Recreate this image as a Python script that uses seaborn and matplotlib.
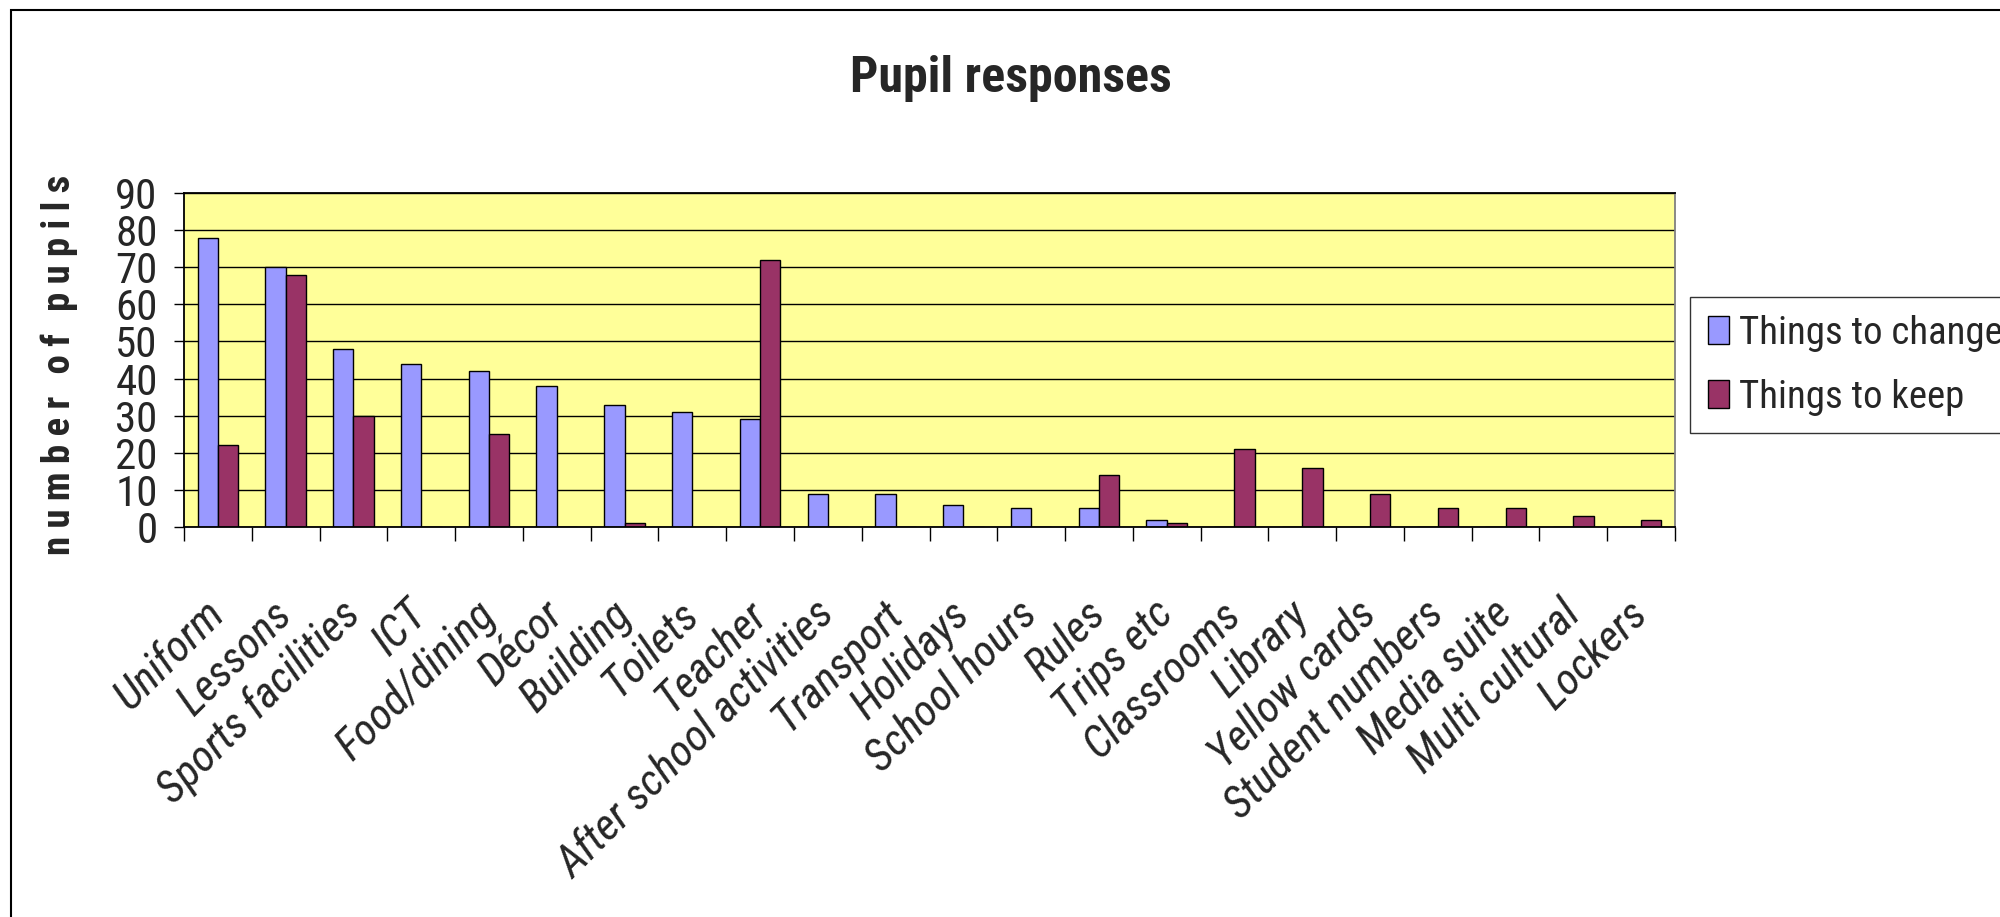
import numpy as np
import pandas as pd
import matplotlib
matplotlib.use("Agg")
import matplotlib.pyplot as plt
from matplotlib.patches import Patch, Rectangle
from matplotlib import font_manager as fm
import seaborn as sns

# ---- data -------------------------------------------------------------
categories = ["Uniform", "Lessons", "Sports facilities", "ICT", "Food/dining",
              "Décor", "Building", "Toilets", "Teacher",
              "After school activities", "Transport", "Holidays",
              "School hours", "Rules", "Trips etc", "Classrooms", "Library",
              "Yellow cards", "Student numbers", "Media suite",
              "Multi cultural", "Lockers"]
things_to_change = [78, 70, 48, 44, 42, 38, 33, 31, 29, 9, 9, 6, 5, 5, 2,
                    0, 0, 0, 0, 0, 0, 0]
things_to_keep = [22, 68, 30, 0, 25, 0, 1, 0, 72, 0, 0, 0, 0, 14, 1,
                  21, 16, 9, 5, 5, 3, 2]
series_names = ["Things to change", "Things to keep"]
y_ticks = list(range(0, 100, 10))
title_text = "Pupil responses"
y_label_text = "number of pupils"

# ---- style ------------------------------------------------------------
sns.set_style("white")


def pick_narrow_font():
    """Prefer a narrow sans face; fall back to Liberation Sans."""
    installed = {f.name for f in fm.fontManager.ttflist}
    for name in ["Liberation Sans Narrow", "Arial Narrow", "Roboto Condensed",
                 "Noto Sans Condensed", "Open Sans Condensed",
                 "DejaVu Sans Condensed", "Nimbus Sans Narrow"]:
        if name in installed:
            return name, "normal"
    for f in fm.fontManager.ttflist:
        if f.stretch in ("condensed", "semi-condensed", "extra-condensed") and \
                f.name in ("Noto Sans", "Roboto", "Open Sans", "Liberation Sans",
                           "DejaVu Sans", "Inter", "Lato"):
            return f.name, f.stretch
    return "Liberation Sans", "normal"


NARROW, STRETCH = pick_narrow_font()
plt.rcParams["font.family"] = [NARROW, "DejaVu Sans"]
plt.rcParams["font.stretch"] = STRETCH

colors = ["#9999FF", "#993366"]
plot_bg = "#FFFF99"

df = pd.DataFrame({
    "item": categories * 2,
    "count": things_to_change + things_to_keep,
    "series": [series_names[0]] * len(categories) + [series_names[1]] * len(categories),
})

fig = plt.figure(figsize=(20, 9.17), dpi=100)
ax = fig.add_axes([0.092, 0.4253, 0.7455, 0.3642])
ax.set_facecolor(plot_bg)

sns.barplot(data=df, x="item", y="count", hue="series", order=categories,
            hue_order=series_names, palette=colors, width=0.6,
            edgecolor="black", linewidth=1.0, saturation=1, legend=False, ax=ax)

ax.set_xlim(-0.5, len(categories) - 0.5)
ax.set_ylim(0, 90)
ax.set_yticks(y_ticks)
ax.set_yticklabels([str(v) for v in y_ticks], fontsize=31)
ax.set_axisbelow(True)
ax.yaxis.grid(True, color="black", linewidth=1.0)
ax.xaxis.grid(False)

# category separators as ticks; labels sit at the category centres
ax.set_xticks(np.arange(-0.5, len(categories), 1.0), minor=True)
ax.tick_params(axis="x", which="minor", length=10, width=1, color="black",
               bottom=True, direction="out")
ax.tick_params(axis="x", which="major", length=0, pad=58)
ax.tick_params(axis="y", which="major", length=7, width=1, color="black",
               left=True, direction="out", pad=12)
ax.set_xticks(range(len(categories)))
ax.set_xticklabels(categories, fontsize=32, style="italic", rotation=45,
                   ha="right", va="center", rotation_mode="anchor")
ax.set_xlabel("")
ax.set_ylabel("")

for side in ["left", "bottom", "top"]:
    ax.spines[side].set_color("black")
    ax.spines[side].set_linewidth(1.3)
ax.spines["right"].set_color("#808080")
ax.spines["right"].set_linewidth(1.3)

# titles
fig.text(1011 / 2000, 1 - 79 / 917, title_text, ha="center", va="center",
         fontsize=36, fontweight="bold")
letter_gap = "\u200a\u200a"
word_gap = "\u2009\u2009\u2009"
spaced = word_gap.join(letter_gap.join(word) for word in y_label_text.split(" "))
fig.text(59 / 2000, 1 - 365 / 917, spaced, rotation=90,
         ha="center", va="center", fontsize=28, fontweight="bold")

# legend
handles = [Patch(facecolor=c, edgecolor="black", linewidth=1.0) for c in colors]
leg = fig.legend(handles, series_names, loc="upper left",
                 bbox_to_anchor=(1690 / 2000, 1 - 297 / 917),
                 fontsize=28, frameon=True, fancybox=False, edgecolor="black",
                 handlelength=0.55, handleheight=0.72, handletextpad=0.25,
                 borderpad=0.45, labelspacing=0.7, borderaxespad=0)
leg.get_frame().set_linewidth(1.0)

# chart-area border
fig.patches.append(Rectangle((11 / 2000, -0.1), 1.2, 1.1 - 10 / 917,
                             transform=fig.transFigure, fill=False,
                             edgecolor="black", linewidth=1.5))

fig.savefig("out.png", dpi=100)
